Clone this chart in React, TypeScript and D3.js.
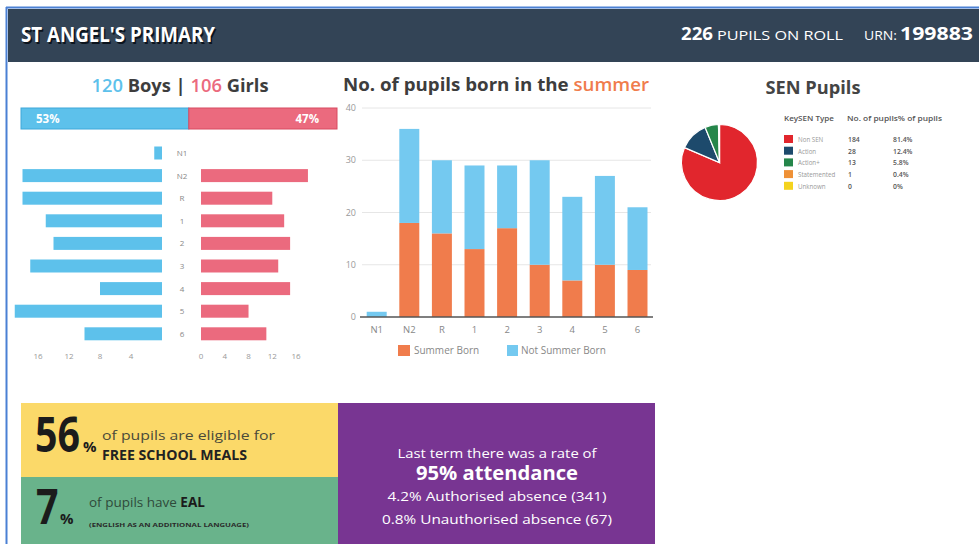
import React, { useEffect, useRef } from "react";
import * as d3 from "d3";

// year groups
const years = ["N1", "N2", "R", "1", "2", "3", "4", "5", "6"];
const boys = [1, 18, 18, 15, 14, 17, 8, 19, 10];
const girls = [0, 18, 12, 14, 15, 13, 15, 8, 11];
const boysTicks = [16, 12, 8, 4];
const girlsTicks = [0, 4, 8, 12, 16];

// summer born chart
const summerBorn = [0, 18, 16, 13, 17, 10, 7, 10, 9];
const notSummerBorn = [1, 18, 14, 16, 12, 20, 16, 17, 12];
const summerTicks = [0, 10, 20, 30, 40];

// SEN pie
const senTypes = ["Non SEN", "Action", "Action+", "Statemented", "Unknown"];
const senCounts = [184, 28, 13, 1, 0];
const senPercents = ["81.4%", "12.4%", "5.8%", "0.4%", "0%"];
const senColors = ["#e1262d", "#1d4a6c", "#25864a", "#ef9136", "#f4d31e"];

const FONT = "'Open Sans', sans-serif";
const BLUE = "#5dc1eb";
const PINK = "#eb6a7e";
const ORANGE = "#f07c4c";
const SKY = "#74c9f0";

const App = () => {
  const ref = useRef<SVGSVGElement>(null);

  useEffect(() => {
    const svg = d3.select(ref.current);
    svg.selectAll("*").remove();

    const text = (x, y, s, size, opts: any = {}) => {
      const t = (opts.parent || svg).append("text")
        .attr("x", x).attr("y", y)
        .attr("font-family", opts.family || FONT)
        .attr("font-size", size)
        .attr("font-weight", opts.weight || 400)
        .attr("fill", opts.fill || "#3a3a3a")
        .attr("text-anchor", opts.anchor || "start")
        .text(s);
      if (opts.len) t.attr("textLength", opts.len).attr("lengthAdjust", "spacingAndGlyphs");
      return t;
    };

    svg.append("rect").attr("width", 979).attr("height", 544).attr("fill", "#fff");

    // frame + header
    svg.append("line").attr("x1", 6.5).attr("x2", 6.5).attr("y1", 7).attr("y2", 544)
      .attr("stroke", "#4a80d4").attr("stroke-width", 2);
    svg.append("line").attr("x1", 6).attr("x2", 979).attr("y1", 7.5).attr("y2", 7.5)
      .attr("stroke", "#4a80d4").attr("stroke-width", 2);
    svg.append("rect").attr("x", 8).attr("y", 9).attr("width", 971).attr("height", 53).attr("fill", "#334456");

    text(22.5, 43.5, "ST ANGEL'S PRIMARY", 21, { weight: 700, fill: "#0c141d", len: 194 });
    text(21, 42, "ST ANGEL'S PRIMARY", 21, { weight: 700, fill: "#fff", len: 194 });
    text(681, 40, "226", 17, { weight: 700, fill: "#fff", len: 32 });
    text(717, 40, "PUPILS ON ROLL", 12.5, { fill: "#fff", len: 126 });
    text(864, 40, "URN:", 12.5, { fill: "#fff", len: 33 });
    text(900, 40, "199883", 17, { weight: 700, fill: "#fff", len: 73 });

    // ---- Boys / Girls ----
    const t1 = text(180, 92, "", 17.5, { weight: 700, anchor: "middle", len: 177 });
    t1.append("tspan").attr("fill", BLUE).attr("font-weight", 600).text("120");
    t1.append("tspan").attr("fill", "#3d3d3d").text(" Boys | ");
    t1.append("tspan").attr("fill", PINK).attr("font-weight", 600).text("106");
    t1.append("tspan").attr("fill", "#3d3d3d").text(" Girls");

    const nBoys = d3.sum(boys), nGirls = d3.sum(girls);
    const share = d3.scaleLinear().domain([0, nBoys + nGirls]).range([21, 337]);
    svg.append("rect").attr("x", share(0)).attr("y", 108).attr("width", share(nBoys) - share(0)).attr("height", 21)
      .attr("fill", BLUE).attr("stroke", "#3ea8da");
    svg.append("rect").attr("x", share(nBoys)).attr("y", 108).attr("width", share(nBoys + nGirls) - share(nBoys)).attr("height", 21)
      .attr("fill", PINK).attr("stroke", "#d84a60");
    text(36, 123, `${Math.round(nBoys / (nBoys + nGirls) * 100)}%`, 11.5, { weight: 700, fill: "#fff" });
    text(319, 123, `${Math.round(nGirls / (nBoys + nGirls) * 100)}%`, 11.5, { weight: 700, fill: "#fff", anchor: "end" });

    const yRow = d3.scaleBand().domain(years).range([141.7, 345.1]).paddingInner(0.425).paddingOuter(0.2125);
    const xBoys = d3.scaleLinear().domain([0, 19]).range([162, 14.75]);
    const xGirls = d3.scaleLinear().domain([0, 22]).range([201, 331.7]);

    svg.append("g").selectAll("rect").data(years).join("rect")
      .attr("x", (d, i) => xBoys(boys[i])).attr("y", (d) => yRow(d))
      .attr("width", (d, i) => xBoys(0) - xBoys(boys[i])).attr("height", yRow.bandwidth())
      .attr("fill", BLUE);
    svg.append("g").selectAll("rect").data(years).join("rect")
      .attr("x", xGirls(0)).attr("y", (d) => yRow(d))
      .attr("width", (d, i) => xGirls(girls[i]) - xGirls(0)).attr("height", yRow.bandwidth())
      .attr("fill", PINK);
    years.forEach((d) => text(182, yRow(d) + yRow.bandwidth() / 2 + 3, d, 8, { fill: "#888", anchor: "middle" }));
    boysTicks.forEach((t) => text(xBoys(t), 359, String(t), 8, { fill: "#999", anchor: "middle" }));
    girlsTicks.forEach((t) => text(xGirls(t), 359, String(t), 8, { fill: "#999", anchor: "middle" }));

    // ---- Summer born ----
    const t2 = text(496, 91, "No. of pupils born in the ", 18, { weight: 700, anchor: "middle", fill: "#3d3d3d", len: 306 });
    t2.append("tspan").attr("fill", ORANGE).attr("font-weight", 600).text("summer");

    const table = years.map((y, i) => ({ year: y, summer: summerBorn[i], notSummer: notSummerBorn[i] }));
    const x = d3.scaleBand().domain(years).range([360.4, 653.8]).paddingInner(0.387).paddingOuter(0.1935);
    const y = d3.scaleLinear().domain([0, 40]).range([317, 108]);

    summerTicks.filter((t) => t > 0).forEach((t) => {
      svg.append("line").attr("x1", 362).attr("x2", 651).attr("y1", y(t)).attr("y2", y(t))
        .attr("stroke", "#e6e6e6");
    });
    summerTicks.forEach((t) => text(356, y(t) + 3, String(t), 9, { fill: "#999", anchor: "end" }));

    const stack = d3.stack().keys(["summer", "notSummer"])(table as any);
    const colors = [ORANGE, SKY];
    stack.forEach((layer, k) => {
      svg.append("g").selectAll("rect").data(layer).join("rect")
        .attr("x", (d: any) => x(d.data.year)).attr("width", x.bandwidth())
        .attr("y", (d) => y(d[1])).attr("height", (d) => y(d[0]) - y(d[1]))
        .attr("fill", colors[k]);
    });
    svg.append("line").attr("x1", 360).attr("x2", 653).attr("y1", y(0)).attr("y2", y(0))
      .attr("stroke", "#555").attr("stroke-width", 1.5);
    years.forEach((d) => text(x(d) + x.bandwidth() / 2, 333, d, 9.5, { fill: "#888", anchor: "middle" }));

    svg.append("rect").attr("x", 398).attr("y", 345).attr("width", 12).attr("height", 11).attr("fill", ORANGE);
    text(414, 354, "Summer Born", 10, { fill: "#888" });
    svg.append("rect").attr("x", 507).attr("y", 345).attr("width", 11).attr("height", 11).attr("fill", SKY);
    text(521, 354, "Not Summer Born", 10, { fill: "#888" });

    // ---- SEN pie ----
    text(813, 94, "SEN Pupils", 18, { weight: 700, anchor: "middle", fill: "#444", len: 95 });
    const pie = d3.pie<number>().sort(null)(senCounts);
    const arc = d3.arc<any>().innerRadius(0).outerRadius(38);
    svg.append("g").attr("transform", "translate(719.5,162.5)")
      .selectAll("path").data(pie).join("path")
      .attr("d", arc).attr("fill", (d, i) => senColors[i])
      .attr("stroke", "#fff").attr("stroke-width", 1.2);

    text(784, 121, "KeySEN Type", 6.8, { fill: "#555", weight: 600, len: 50 });
    text(847, 121, "No. of pupils% of pupils", 6.8, { fill: "#555", weight: 600, len: 95 });
    senTypes.forEach((s, i) => {
      const ry = 142 + i * 11.7;
      svg.append("rect").attr("x", 784).attr("y", ry - 7).attr("width", 9).attr("height", 8).attr("fill", senColors[i]);
      text(798, ry, s, 6.2, { fill: "#999" });
      text(848, ry, String(senCounts[i]), 6.8, { fill: "#555", weight: 600 });
      text(893, ry, senPercents[i], 6.8, { fill: "#555", weight: 600 });
    });

    // ---- bottom boxes ----
    svg.append("rect").attr("x", 21).attr("y", 403).attr("width", 317).attr("height", 74).attr("fill", "#fbd969");
    svg.append("rect").attr("x", 21).attr("y", 477).attr("width", 317).attr("height", 67).attr("fill", "#69b38b");
    svg.append("rect").attr("x", 338).attr("y", 403).attr("width", 317).attr("height", 141).attr("fill", "#783592");

    // big condensed numbers
    const g56 = svg.append("g").attr("transform", "translate(35,452) scale(0.82,1)");
    text(0, 0, "56", 48, { weight: 700, fill: "#1b1b1b", parent: g56 });
    text(83, 452, "%", 15, { weight: 700, fill: "#1b1b1b" });
    text(102, 440, "of pupils are eligible for", 13, { fill: "#4a4a3a", len: 173 });
    text(102, 460, "FREE SCHOOL MEALS", 13.5, { weight: 700, fill: "#222", len: 145 });

    const g7 = svg.append("g").attr("transform", "translate(36,524) scale(0.82,1)");
    text(0, 0, "7", 48, { weight: 700, fill: "#1b1b1b", parent: g7 });
    text(60, 524, "%", 15, { weight: 700, fill: "#1b1b1b" });
    const t3 = text(89, 507, "of pupils have ", 13.5, { fill: "#2f4a3a" });
    t3.append("tspan").attr("font-weight", 700).attr("fill", "#1b1b1b").text("EAL");
    text(89, 527, "(ENGLISH AS AN ADDITIONAL LANGUAGE)", 6, { weight: 700, fill: "#2a2a2a", len: 160 });

    text(497, 458, "Last term there was a rate of", 13.5, { fill: "#fff", anchor: "middle", len: 199 });
    text(497, 480, "95% attendance", 19, { weight: 700, fill: "#fff", anchor: "middle", len: 162 });
    text(497, 501, "4.2% Authorised absence (341)", 13.5, { fill: "#fff", anchor: "middle", len: 219 });
    text(497, 524, "0.8% Unauthorised absence (67)", 13.5, { fill: "#fff", anchor: "middle", len: 230 });
  }, []);

  return (
    <svg ref={ref} width={979} height={544}
      style={{ position: "absolute", left: 0, top: 0, display: "block" }} />
  );
};

export default App;
